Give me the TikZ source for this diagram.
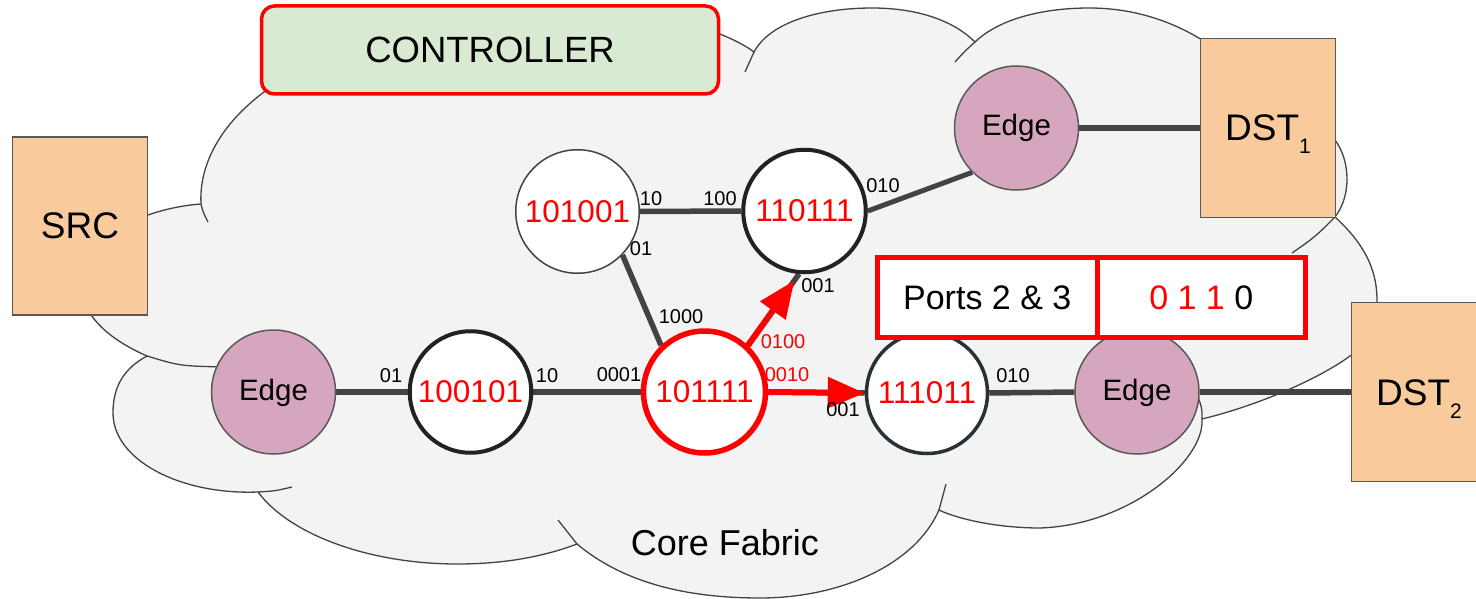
\documentclass[tikz,border=0pt]{standalone}
\usepackage{fontspec}
\setmainfont{Liberation Sans}
\usetikzlibrary{arrows.meta}
\definecolor{cloudfill}{HTML}{F3F3F3}
\definecolor{cloudline}{HTML}{434343}
\definecolor{peach}{HTML}{F9CB9C}
\definecolor{boxline}{HTML}{595959}
\definecolor{edgefill}{HTML}{D5A6BD}
\definecolor{ctrlfill}{HTML}{D9EAD3}
\definecolor{linkgray}{HTML}{434343}
\definecolor{pureRed}{HTML}{FF0000}
\definecolor{slate}{HTML}{263238}
\definecolor{nodeblack}{HTML}{222222}
\pgfdeclarelayer{bgcloud}
\pgfdeclarelayer{bglinks}
\pgfsetlayers{bgcloud,bglinks,main}
\begin{document}
\begin{tikzpicture}[x=1pt,y=-1pt,
  sw/.style={circle, fill=white, inner sep=0pt, text=pureRed, font=\fontsize{31.5}{31.5}\selectfont},
  edgenode/.style={circle, draw=boxline, line width=1.5pt, fill=edgefill, inner sep=0pt,
     minimum size=124pt, font=\fontsize{29.5}{29.5}\selectfont, text height=21pt, text depth=5pt},
  hostbox/.style={rectangle, draw=boxline, line width=1.8pt, fill=peach, inner sep=0pt,
     minimum width=135pt, minimum height=179pt, font=\fontsize{37}{37}\selectfont},
  portbox/.style={rectangle, draw=pureRed, line width=5pt, fill=white, inner sep=0pt,
     minimum height=80pt, font=\fontsize{34}{34}\selectfont},
  link/.style={draw=linkgray, line width=5.5pt},
  redarrow/.style={draw=pureRed, line width=6pt, -{Triangle[length=37pt,width=30pt]}},
  port/.style={inner sep=0pt, font=\fontsize{20}{20}\selectfont},
  cloudstroke/.style={draw=cloudline, line width=1.3pt}
]
\useasboundingbox (0,0) rectangle (1476,599);

% ---------- switches ----------
\node[sw, draw=cloudline, line width=1.5pt, minimum size=123.5pt] (s101001) at (577.5,211.5) {101001};
\node[sw, draw=nodeblack, line width=4pt, minimum size=122.5pt] (s110111) at (804.5,211) {110111};
\node[sw, draw=nodeblack, line width=4pt, minimum size=121.5pt] (s100101) at (470.5,392) {100101};
\node[sw, draw=pureRed, line width=5.5pt, minimum size=122pt] (s101111) at (704.5,392) {101111};
\node[sw, draw=slate, line width=3.5pt, minimum size=121pt] (s111011) at (927,393) {111011};

% ---------- edge nodes ----------
\node[edgenode] (e1) at (273.5,392) {Edge};
\node[edgenode] (e2) at (1016.5,128) {Edge};
\node[edgenode] (e3) at (1137,392) {Edge};

% ---------- hosts ----------
\node[hostbox, minimum height=178pt] (src) at (80,226) {SRC};
\node[hostbox, text height=26pt, text depth=0pt] (dst1) at (1268,128) {DST\raisebox{-13pt}{\fontsize{21}{21}\selectfont 1}};
\node[hostbox, text height=26pt, text depth=0pt] (dst2) at (1419,392) {DST\raisebox{-13pt}{\fontsize{21}{21}\selectfont 2}};

% ---------- controller ----------
\node[draw=pureRed, line width=3.5pt, fill=ctrlfill, rounded corners=13pt, inner sep=0pt,
      minimum width=457pt, minimum height=88pt, font=\fontsize{36.5}{36.5}\selectfont] (ctrl) at (490,50) {CONTROLLER};

% ---------- ports box ----------
\node[portbox, minimum width=219.5pt] (pl) at (987.25,297.5) {Ports 2 \& 3};
\node[portbox, minimum width=208.5pt] (pr) at (1201.25,297.5) {\textcolor{pureRed}{0 1 1} 0};

% ---------- labels ----------
\node[font=\fontsize{36}{36}\selectfont, inner sep=0pt] (core) at (725,543) {Core Fabric};
\node[port] (p1) at (651,199) {10};
\node[port] (p2) at (720,199) {100};
\node[port] (p3) at (641,249) {01};
\node[port] (p4) at (883,186) {010};
\node[port] (p5) at (818,286) {001};
\node[port] (p6) at (681,317) {1000};
\node[port, text=pureRed] (p7) at (783,342) {0100};
\node[port, text=pureRed] (p8) at (787,375) {0010};
\node[port] (p9) at (619,375) {0001};
\node[port] (p10) at (843,410) {001};
\node[port] (p11) at (1013,376) {010};
\node[port] (p12) at (391,376) {01};
\node[port] (p13) at (547,376) {10};

% ---------- links ----------
\begin{pgfonlayer}{bglinks}
\draw[link] (e1.east) -- (s100101.west);
\draw[link] (s100101.east) -- (s101111.west);
\draw[link] (s101001.east) -- (s110111.west);
\draw[link] (s101001.-44) -- (s101111.133);
\draw[link, line width=5pt] (s110111.east) -- (e2.225);
\draw[link] (e2.east) -- (dst1.west);
\draw[link] (s101111.47) -- (s110111.-95);
\draw[link] (s101111.east) -- (s111011.west);
\draw[link] (s111011.east) -- (e3.west);
\draw[link] (e3.east) -- (dst2.west);
\draw[redarrow, shorten >=8pt] (s101111.47) -- (s110111.-95);
\draw[redarrow] (s101111.east) -- (s111011.west);
\end{pgfonlayer}

% ---------- cloud ----------
\begin{pgfonlayer}{bgcloud}
\fill[white] (0,0) rectangle (1476,599);
\path[cloudstroke, fill=cloudfill] (201,204)
 .. controls (198,150) and (240,100) .. (300,70)
 .. controls (410,0) and (640,0) .. (720,34)
 .. controls (732,39) and (745,45) .. (754,52)
 .. controls (770,22) and (820,8) .. (872,8)
 .. controls (920,8) and (955,22) .. (975,42)
 .. controls (1000,18) and (1045,8) .. (1089,8)
 .. controls (1140,8) and (1180,25) .. (1210,45)
 .. controls (1280,80) and (1320,110) .. (1335,140)
 .. controls (1350,160) and (1352,195) .. (1335,217)
 .. controls (1360,240) and (1377,265) .. (1377,300)
 .. controls (1377,330) and (1365,345) .. (1350,356)
 .. controls (1320,378) and (1260,405) .. (1202,419)
 .. controls (1205,460) and (1130,525) .. (1040,528)
 .. controls (1000,528) and (960,520) .. (939,510)
 .. controls (915,565) and (840,598) .. (760,598)
 .. controls (680,598) and (620,580) .. (577,544)
 .. controls (540,558) and (500,564) .. (457,564)
 .. controls (370,564) and (290,535) .. (258,492)
 .. controls (180,495) and (113,460) .. (113,413)
 .. controls (113,385) and (125,368) .. (147,356)
 .. controls (115,342) and (95,325) .. (85,305)
 .. controls (60,250) and (100,225) .. (148,215)
 .. controls (165,209) and (185,205) .. (201,204) -- cycle;
\draw[cloudstroke] (201,204) .. controls (203,212) .. (208,222);
\draw[cloudstroke] (754,52) .. controls (750,62) .. (745,72);
\draw[cloudstroke] (975,42) .. controls (965,51) .. (955,62);
\draw[cloudstroke] (1335,217) .. controls (1315,237) .. (1292,253);
\draw[cloudstroke] (1202,419) .. controls (1202,408) .. (1198,397);
\draw[cloudstroke] (939,510) .. controls (943,497) .. (946,484);
\draw[cloudstroke] (577,544) .. controls (567,532) .. (558,520);
\draw[cloudstroke] (258,492) .. controls (275,491) .. (292,487);
\draw[cloudstroke] (147,356) .. controls (180,366) .. (225,367);
\end{pgfonlayer}
\end{tikzpicture}
\end{document}
